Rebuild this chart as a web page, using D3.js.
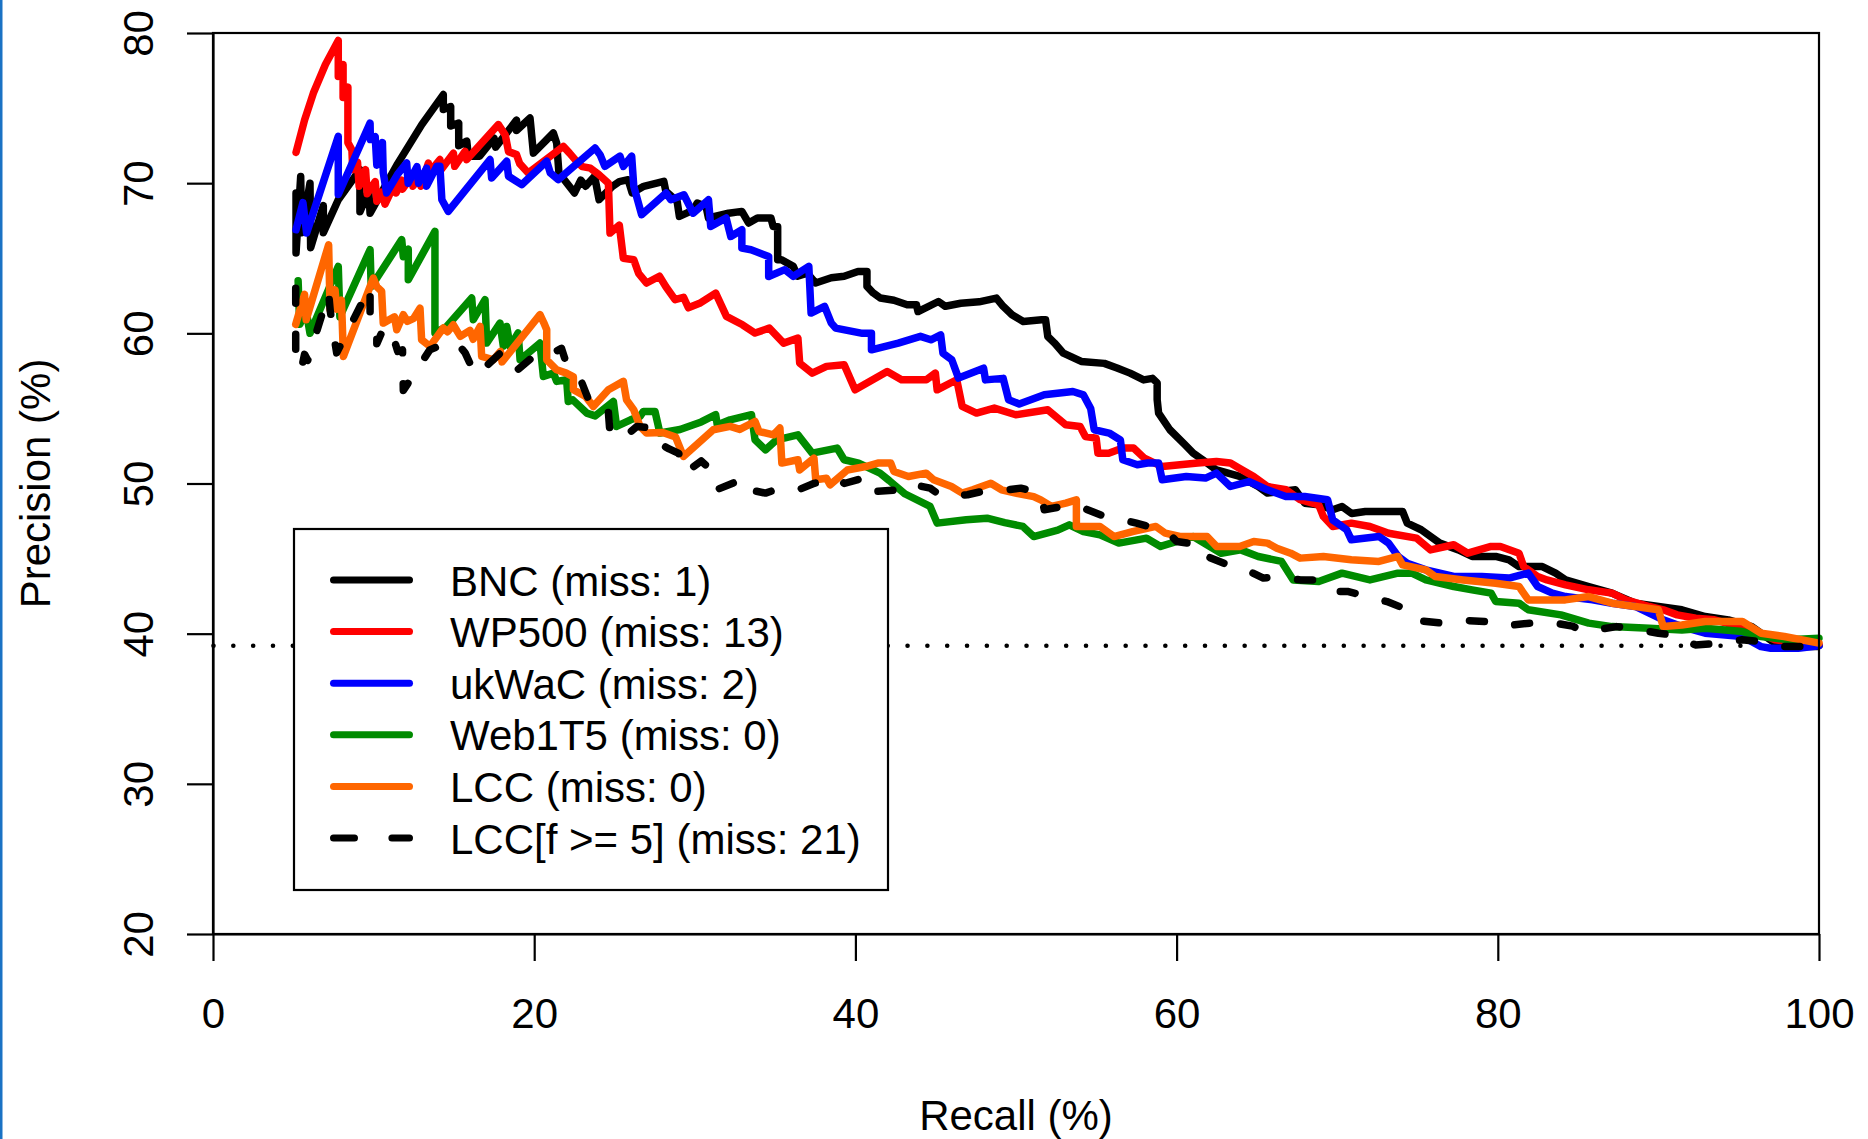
<!DOCTYPE html>
<html lang="en">
<head>
  <meta charset="UTF-8">
  <title>Precision / Recall</title>
  <script src="https://d3js.org/d3.v7.min.js"></script>
  <style>
    * { margin: 0; padding: 0; box-sizing: border-box; }
    body { background: white; font-family: "Liberation Sans", Arial, Helvetica, sans-serif; }
    svg text { font-family: "Liberation Sans", Arial, Helvetica, sans-serif; fill: black; }
  </style>
</head>
<body>
  <div id="chart"></div>

  <script>
    // ---- data: [recall %, precision %] ----
    const xTicks = [0, 20, 40, 60, 80, 100];
    const yTicks = [20, 30, 40, 50, 60, 70, 80];
    const baseline = 39.2;

    const bncPts = [[5.17,69.35],[5.17,65.35],[5.46,70.45],[5.52,66.7],[6.04,70.0],[6.08,65.7],[6.87,68.5],[6.87,66.7],[7.8,68.9],[9.15,70.9],[9.15,68.1],[9.7,69.5],[9.78,68.0],[11.5,71.3],[13.0,73.9],[14.34,75.9],[14.34,74.9],[14.8,75.1],[14.8,73.8],[15.3,74.0],[15.3,72.5],[15.8,72.8],[15.9,71.8],[16.6,71.8],[17.5,73.0],[17.6,72.4],[18.9,74.2],[18.9,73.5],[19.74,74.34],[19.95,72.0],[21.19,73.34],[21.4,72.67],[21.54,70.68],[22.51,69.35],[22.9,70.2],[23.2,69.8],[23.76,70.46],[24.04,68.9],[24.87,69.79],[25.3,70.1],[25.85,70.23],[26.1,69.35],[26.82,69.79],[28.07,70.12],[28.2,69.45],[28.9,68.79],[29.04,67.79],[29.9,68.2],[30.15,68.68],[30.7,68.45],[30.85,67.68],[32.1,68.0],[32.93,68.12],[33.35,67.35],[33.9,67.68],[34.74,67.68],[34.88,67.12],[35.16,67.1],[35.16,64.9],[35.4,64.9],[36.13,64.46],[36.4,63.8],[37.0,64.0],[37.52,63.35],[38.5,63.7],[39.3,63.8],[40.16,64.12],[40.72,64.12],[40.72,63.12],[41.1,62.7],[41.55,62.35],[42.4,62.2],[43.22,61.9],[43.8,61.9],[43.9,61.45],[45.17,62.12],[45.6,61.8],[46.56,62.0],[47.7,62.1],[48.78,62.35],[49.2,61.8],[49.75,61.24],[50.45,60.79],[51.6,60.9],[51.84,60.9],[51.98,59.79],[52.4,59.35],[52.95,58.68],[54.06,58.13],[55.5,58.0],[56.29,57.69],[57.1,57.35],[57.95,56.9],[58.5,57.0],[58.79,56.7],[58.79,55.58],[58.88,54.69],[59.58,53.58],[60.5,52.6],[61.03,52.02],[61.6,51.6],[62.48,50.9],[63.93,50.47],[65.08,49.8],[65.66,49.36],[67.4,49.58],[67.98,48.69],[68.85,48.58],[69.72,48.25],[70.3,48.47],[70.9,48.0],[71.75,48.14],[74.07,48.14],[74.36,47.36],[75.23,46.92],[76.39,46.03],[77.55,45.58],[78.4,45.14],[79.87,45.14],[80.7,44.92],[81.32,44.47],[82.77,44.47],[83.6,44.03],[84.22,43.58],[85.66,43.14],[87.11,42.7],[88.56,42.03],[90.01,41.81],[91.46,41.59],[92.91,41.14],[94.36,40.92],[95.81,40.47],[97.26,39.37],[98.13,39.14],[99.87,39.14],[100,39.2]];

    const wp500Pts = [[5.17,72.05],[5.7,74.2],[6.25,76.0],[7.0,77.9],[7.8,79.5],[7.8,77.1],[8.1,77.9],[8.1,75.7],[8.4,76.4],[8.4,72.7],[8.65,72.2],[8.7,70.9],[9.0,71.4],[9.1,69.8],[9.5,70.9],[9.6,69.3],[10.1,70.1],[10.2,68.8],[10.5,69.4],[10.71,68.6],[11.33,70.0],[11.4,69.35],[11.75,70.2],[11.8,69.6],[12.37,70.45],[12.45,69.8],[12.89,70.45],[12.95,69.8],[13.41,71.34],[13.45,70.68],[14.13,71.57],[14.2,70.9],[14.97,72.0],[15.05,71.12],[15.69,72.12],[15.8,71.57],[17.77,73.9],[18.2,73.2],[18.4,72.1],[18.9,71.9],[19.1,71.3],[19.63,70.68],[21.81,72.45],[22.2,72.0],[22.6,71.5],[23.0,71.1],[23.5,71.0],[24.0,70.6],[24.62,70.0],[24.72,66.68],[25.3,67.2],[25.55,65.0],[26.2,64.9],[26.5,64.0],[27.0,63.35],[27.8,63.8],[28.2,63.1],[28.77,62.24],[29.3,62.4],[29.6,61.7],[30.3,62.0],[31.3,62.68],[31.97,61.13],[32.97,60.57],[33.75,60.02],[34.64,60.35],[35.53,59.35],[36.42,59.68],[36.53,58.02],[37.31,57.35],[38.2,57.8],[39.3,57.91],[39.98,56.24],[41.98,57.46],[42.87,56.91],[44.42,56.91],[44.98,57.35],[45.09,56.24],[46.31,56.91],[46.65,55.13],[47.54,54.69],[48.65,55.02],[49.98,54.58],[51.98,54.91],[53.1,53.91],[53.99,53.8],[54.32,53.13],[54.99,53.02],[55.1,52.02],[55.77,52.02],[56.65,52.36],[57.32,52.36],[57.99,51.69],[59.1,51.13],[61.32,51.36],[62.48,51.47],[63.35,51.36],[63.93,51.0],[64.8,50.47],[65.66,49.8],[66.82,49.58],[67.69,48.92],[68.85,48.58],[69.14,47.8],[69.72,47.14],[70.88,47.36],[72.04,47.14],[73.2,46.69],[74.94,46.36],[75.81,45.58],[77.26,45.92],[78.13,45.36],[79.58,45.81],[80.16,45.81],[81.32,45.36],[81.61,44.47],[82.48,43.81],[83.06,43.58],[84.22,43.25],[85.66,42.92],[87.11,42.7],[87.98,42.25],[89.43,41.81],[90.3,41.59],[91.17,41.25],[92.33,41.03],[93.49,40.92],[95.81,40.25],[97.26,39.59],[98.71,39.37],[100,39.25]];

    const ukwacPts = [[5.17,66.9],[5.6,68.7],[5.83,66.68],[7.8,73.12],[7.8,69.24],[9.78,74.0],[9.8,72.9],[10.1,73.1],[10.2,71.2],[10.55,72.7],[10.6,70.7],[10.81,69.35],[11.5,70.6],[12.06,71.35],[12.15,70.0],[12.7,71.1],[12.8,70.0],[13.3,71.0],[13.3,69.8],[13.93,71.12],[14.13,71.12],[14.25,68.9],[14.65,68.12],[17.25,71.57],[17.35,70.35],[18.29,71.46],[18.4,70.46],[19.22,69.9],[20.78,71.46],[21.0,70.68],[21.5,70.23],[23.79,72.34],[24.1,71.9],[24.4,71.12],[25.34,71.8],[25.55,71.12],[26.07,71.8],[26.2,69.8],[26.69,67.9],[28.21,69.35],[28.5,68.9],[29.32,69.23],[29.9,68.0],[30.85,68.9],[30.99,67.12],[31.95,67.68],[32.24,66.45],[32.93,66.9],[32.93,65.68],[33.5,65.57],[34.6,65.12],[34.6,63.79],[35.6,64.24],[36.13,63.79],[37.1,64.46],[37.24,61.35],[38.08,61.79],[38.5,60.68],[38.77,60.35],[40.44,60.0],[41.0,60.0],[41.0,58.9],[42.67,59.35],[44.05,59.8],[44.7,59.57],[45.31,59.9],[45.45,58.68],[46.0,58.24],[46.42,57.02],[47.98,57.68],[48.1,56.9],[49.2,57.0],[49.54,55.58],[50.2,55.3],[51.76,55.91],[53.54,56.13],[54.2,55.9],[54.65,55.0],[54.87,53.58],[55.8,53.36],[56.5,52.9],[56.65,51.58],[57.55,51.25],[58.2,51.36],[58.88,51.36],[59.1,50.25],[60.6,50.47],[61.8,50.36],[62.48,50.69],[63.35,49.8],[64.5,50.13],[65.66,49.58],[66.8,49.14],[67.98,49.14],[69.4,48.92],[69.72,47.58],[70.59,46.92],[70.88,46.25],[72.6,46.47],[73.2,46.03],[73.8,45.14],[74.36,44.69],[75.52,44.25],[77.26,43.81],[79.0,43.81],[80.7,43.7],[81.9,44.03],[82.48,43.14],[83.4,42.7],[84.22,42.47],[85.9,42.25],[87.11,42.03],[88.56,41.81],[89.43,41.36],[90.3,40.92],[91.46,40.47],[92.91,40.03],[95.23,39.81],[96.39,39.14],[97.0,39.03],[98.7,39.03],[100,39.2]];

    const web1t5Pts = [[5.3,63.5],[5.4,60.6],[5.8,61.5],[6.04,60.0],[7.8,64.46],[7.9,61.1],[9.78,65.57],[9.85,63.1],[11.75,66.24],[11.85,65.1],[12.16,65.6],[12.16,63.57],[13.82,66.79],[13.82,60.02],[14.55,60.46],[16.11,62.35],[16.21,60.91],[16.94,62.24],[17.04,59.35],[17.87,60.68],[18.08,59.13],[18.29,60.46],[18.5,59.13],[19.0,60.02],[19.12,58.24],[20.36,59.35],[20.57,57.13],[21.2,57.35],[21.4,56.8],[22.02,56.91],[22.12,55.46],[22.4,55.57],[23.27,54.69],[23.8,54.5],[24.93,55.46],[25.13,53.8],[26.0,54.24],[26.59,54.47],[26.8,54.8],[27.52,54.8],[27.83,53.36],[29.08,53.6],[30.4,54.1],[31.3,54.58],[31.4,53.9],[32.2,54.24],[33.53,54.58],[33.75,52.91],[34.4,52.24],[35.1,52.91],[36.42,53.24],[37.31,52.02],[38.86,52.36],[39.3,51.58],[40.2,51.36],[41.53,50.69],[42.1,50.2],[43.1,49.3],[44.65,48.47],[45.09,47.36],[46.9,47.58],[48.2,47.69],[49.3,47.4],[50.43,47.14],[51.1,46.47],[52.6,46.9],[53.32,47.25],[54.2,46.8],[55.23,46.58],[56.4,46.03],[58.13,46.36],[59.0,45.81],[61.03,46.47],[62.77,45.36],[64.0,45.58],[65.08,45.14],[66.53,44.81],[67.26,43.58],[68.85,43.47],[70.3,44.03],[72.04,43.58],[73.78,44.03],[74.65,44.03],[75.52,43.58],[77.26,43.14],[78.4,42.92],[79.58,42.7],[79.87,42.14],[81.32,42.03],[81.9,41.59],[83.93,41.25],[85.66,40.7],[87.11,40.47],[89.43,40.36],[91.46,40.25],[92.91,40.36],[95.23,40.14],[96.39,39.81],[98.13,39.59],[100,39.7]];

    const lccPts = [[5.15,60.6],[5.7,62.6],[5.8,60.9],[7.2,65.9],[7.29,61.57],[7.6,62.9],[7.7,61.6],[8.0,62.2],[8.12,58.46],[9.98,63.68],[10.2,63.1],[10.5,62.8],[10.6,60.68],[11.3,61.1],[11.44,60.24],[11.85,61.24],[12.1,60.8],[12.5,61.0],[12.89,61.68],[12.99,59.57],[13.51,59.13],[14.34,60.35],[14.6,60.1],[14.96,60.57],[15.4,59.8],[16.0,60.2],[16.2,59.6],[16.63,60.46],[16.73,58.46],[17.46,58.24],[17.9,58.8],[18.0,58.1],[20.36,61.24],[20.6,60.7],[20.78,60.24],[20.78,58.24],[21.4,57.57],[22.0,57.35],[22.44,57.1],[22.44,56.24],[23.2,55.8],[23.68,55.13],[24.62,56.24],[25.55,56.8],[25.75,55.57],[26.2,54.9],[26.59,53.8],[27.0,53.36],[28.0,53.4],[28.8,53.1],[29.29,51.8],[31.15,53.58],[32.2,53.8],[32.8,53.6],[33.75,54.13],[34.0,53.46],[34.9,53.24],[35.3,53.7],[35.42,51.36],[36.42,51.58],[36.53,50.9],[37.42,51.69],[37.53,50.25],[38.2,50.35],[38.42,49.91],[39.5,50.9],[40.64,51.13],[41.4,51.36],[42.2,51.36],[42.4,50.8],[43.3,50.47],[44.4,50.69],[44.87,50.25],[45.98,49.8],[46.65,49.36],[47.3,49.58],[48.43,50.02],[49.1,49.58],[49.98,49.36],[51.1,49.13],[51.54,48.91],[52.21,48.47],[53.1,48.69],[53.76,48.91],[53.76,47.14],[54.6,47.14],[55.23,47.14],[56.1,46.47],[57.26,46.8],[58.71,47.14],[59.3,46.69],[60.2,46.47],[61.9,46.47],[62.48,45.81],[63.93,45.81],[64.8,46.14],[65.66,46.03],[66.24,45.69],[67.1,45.36],[67.69,45.03],[69.14,45.14],[70.88,44.92],[72.6,44.81],[73.78,45.14],[74.07,44.58],[75.52,44.25],[76.1,43.81],[77.84,43.58],[79.87,43.36],[81.32,43.14],[81.9,42.25],[83.35,42.25],[84.2,42.25],[85.66,42.47],[87.11,42.03],[88.56,41.81],[90.0,41.59],[90.3,40.47],[91.46,40.58],[92.91,40.81],[95.23,40.81],[96.4,40.03],[97.84,39.81],[100,39.37]];

    const lcc5Pts = [[5.15,63.0],[5.15,57.8],[5.5,57.6],[5.7,58.6],[5.9,58.2],[7.2,62.7],[7.3,61.5],[7.5,60.0],[7.7,58.7],[9.78,63.1],[9.78,61.0],[10.2,60.7],[10.2,59.3],[10.6,60.3],[10.9,59.4],[11.3,59.5],[11.5,58.8],[11.8,58.9],[11.85,56.2],[13.5,58.9],[14.65,59.4],[15.2,59.35],[15.7,58.7],[16.0,58.0],[16.4,57.2],[18.1,58.9],[18.5,58.1],[19.0,57.6],[20.0,58.5],[20.6,58.35],[21.7,59.0],[22.0,58.0],[22.9,56.9],[23.3,55.8],[23.6,55.1],[24.6,55.0],[24.7,53.6],[25.4,52.9],[26.4,53.8],[27.2,53.7],[27.6,52.8],[28.4,52.3],[29.0,52.0],[29.4,50.7],[30.4,51.5],[31.2,50.7],[31.4,49.6],[33.0,50.3],[33.3,49.6],[34.4,49.36],[35.3,49.69],[36.5,49.6],[37.4,50.0],[38.98,50.35],[39.3,50.0],[40.87,50.47],[41.2,49.47],[42.76,49.58],[43.3,50.0],[44.65,49.69],[45.4,49.13],[46.98,49.25],[47.87,49.47],[49.54,49.58],[50.3,49.69],[51.54,49.36],[51.76,48.25],[53.43,48.58],[54.2,48.36],[55.3,47.9],[56.2,47.7],[57.5,47.36],[58.27,47.14],[59.6,46.58],[60.0,46.14],[61.6,45.9],[61.9,45.14],[63.2,44.58],[63.9,44.47],[65.4,43.7],[66.2,43.8],[67.7,43.58],[68.7,43.58],[69.9,42.8],[70.7,42.8],[72.3,42.36],[73.1,42.14],[74.36,41.6],[74.8,40.9],[76.5,40.7],[77.7,40.9],[79.3,40.8],[80.2,40.5],[82.0,40.7],[83.1,40.8],[84.65,40.5],[85.4,40.14],[87.4,40.47],[88.3,40.36],[90.0,40.03],[90.9,39.92],[92.3,39.25],[93.8,39.37],[95.2,39.59],[96.4,39.48],[97.8,39.14],[99.3,39.14],[100,39.2]];

    const seriesNames = ["BNC (miss: 1)", "WP500 (miss: 13)", "ukWaC (miss: 2)", "Web1T5 (miss: 0)", "LCC (miss: 0)", "LCC[f >= 5] (miss: 21)"];
    const seriesColors = ["#000000", "#ff0000", "#0000ff", "#008b00", "#ff6600", "#000000"];
    const seriesPts = [bncPts, wp500Pts, ukwacPts, web1t5Pts, lccPts, lcc5Pts];

    // ---- layout ----
    const W = 1868, H = 1139;
    const plot = {left: 213, right: 1819, top: 33, bottom: 934};
    const fontSize = 42;

    const svg = d3.select("#chart")
                  .append("svg")
                  .attr("width", W)
                  .attr("height", H);

    // thin blue border on the left edge of the picture
    svg.append("rect")
       .attr("x", 0).attr("y", 0)
       .attr("width", 2.5).attr("height", H)
       .attr("fill", "#1a72c4");

    const x = d3.scaleLinear().domain([0, 100]).range([plot.left, plot.right]);
    const y = d3.scaleLinear().domain([20, 80]).range([plot.bottom, plot.top]);

    // chance baseline (dotted)
    svg.append("line")
       .attr("x1", x(0) + 0.5).attr("x2", x(100))
       .attr("y1", y(baseline)).attr("y2", y(baseline))
       .attr("stroke", "black")
       .attr("stroke-width", 4.6)
       .attr("stroke-linecap", "round")
       .attr("stroke-dasharray", "0 19.83");

    const line = d3.line()
                   .x(d => x(d[0]))
                   .y(d => y(d[1]));

    seriesPts.forEach((pts, i) => {
      svg.append("path")
         .datum(pts)
         .attr("d", line)
         .attr("fill", "none")
         .attr("stroke", seriesColors[i])
         .attr("stroke-width", 7.5)
         .attr("stroke-linejoin", "round")
         .attr("stroke-linecap", "round")
         .attr("stroke-dasharray", i === 5 ? "15 31" : null);
    });

    // box
    svg.append("rect")
       .attr("x", plot.left).attr("y", plot.top)
       .attr("width", plot.right - plot.left)
       .attr("height", plot.bottom - plot.top)
       .attr("fill", "none")
       .attr("stroke", "black")
       .attr("stroke-width", 2.2);

    // x axis
    const gx = svg.append("g")
       .attr("transform", `translate(0,${plot.bottom})`)
       .call(d3.axisBottom(x)
               .tickValues(xTicks)
               .tickSizeInner(27)
               .tickSizeOuter(0)
               .tickPadding(36)
               .tickFormat(d3.format("d")));
    gx.select(".domain").attr("stroke-width", 2.2);
    gx.selectAll(".tick line").attr("stroke-width", 2.2);
    gx.selectAll(".tick text")
      .attr("dy", null)
      .attr("y", 94)
      .style("font-size", fontSize + "px");

    // y axis, labels turned like R's default
    const gy = svg.append("g")
       .attr("transform", `translate(${plot.left},0)`)
       .call(d3.axisLeft(y)
               .tickValues(yTicks)
               .tickSizeInner(26)
               .tickSizeOuter(0)
               .tickFormat(d3.format("d")));
    gy.select(".domain").attr("stroke-width", 2.2);
    gy.selectAll(".tick line").attr("stroke-width", 2.2);
    gy.selectAll(".tick text")
      .attr("x", null)
      .attr("dy", null)
      .attr("text-anchor", "middle")
      .attr("transform", "translate(-60,0) rotate(-90)")
      .style("font-size", fontSize + "px");

    // axis titles
    svg.append("text")
       .attr("x", (plot.left + plot.right) / 2)
       .attr("y", 1130)
       .attr("text-anchor", "middle")
       .style("font-size", fontSize + "px")
       .text("Recall (%)");

    svg.append("text")
       .attr("transform", `translate(50,${(plot.top + plot.bottom) / 2}) rotate(-90)`)
       .attr("text-anchor", "middle")
       .style("font-size", fontSize + "px")
       .text("Precision (%)");

    // legend
    const leg = svg.append("g");
    leg.append("rect")
       .attr("x", 294).attr("y", 529)
       .attr("width", 594).attr("height", 361)
       .attr("fill", "white")
       .attr("stroke", "black")
       .attr("stroke-width", 2.2);

    seriesNames.forEach((name, i) => {
      const ly = 580 + i * 51.6;
      leg.append("line")
         .attr("x1", 333.5).attr("x2", 409.5)
         .attr("y1", ly).attr("y2", ly)
         .attr("stroke", seriesColors[i])
         .attr("stroke-width", 7)
         .attr("stroke-linecap", "round")
         .attr("stroke-dasharray", i === 5 ? "21 37.4" : null);
      leg.append("text")
         .attr("x", 450)
         .attr("y", ly + 15.5)
         .style("font-size", fontSize + "px")
         .text(name);
    });
  </script>
</body>
</html>
